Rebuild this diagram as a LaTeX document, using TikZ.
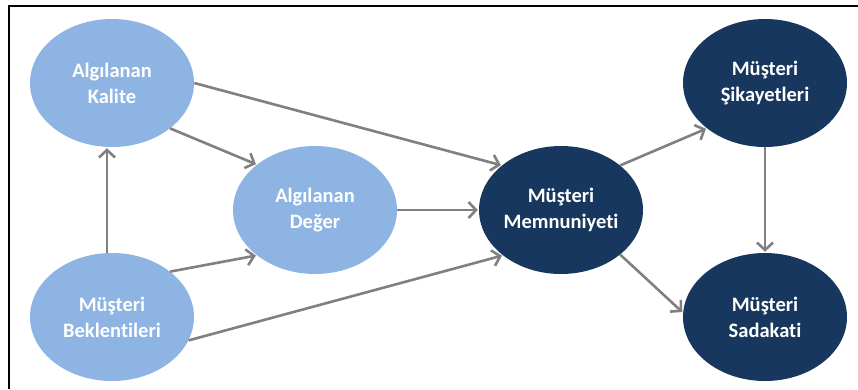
\documentclass[tikz,border=0pt]{standalone}
\usepackage{fontspec}
\setmainfont[Ligatures=NoCommon]{Carlito}
\usetikzlibrary{shapes.geometric,arrows.meta}
\definecolor{lightblue}{RGB}{141,180,226}
\definecolor{navy}{RGB}{23,55,94}
\definecolor{arrowgray}{RGB}{128,128,128}
\tikzset{
  bubble/.style={ellipse, minimum width=164pt, minimum height=128pt, inner sep=0pt,
    text=white, align=center, font=\bfseries\fontsize{20.5}{26}\selectfont},
  light/.style={bubble, fill=lightblue},
  dark/.style={bubble, fill=navy},
  link/.style={draw=arrowgray, line width=2.6pt,
    -{Straight Barb[length=7.5pt,width=16pt]}, shorten >=1pt},
  frame/.style={draw=black, line width=2pt}
}
\begin{document}
\begin{tikzpicture}[x=1pt,y=-1pt]
\useasboundingbox (0,0) rectangle (858,389);
\draw[frame] (9,389) -- (9,6) -- (858,6);
\node[light] (AK) at (112,83) {Algılanan\\Kalite};
\node[light] (MB) at (112,317) {Müşteri\\Beklentileri};
\node[light] (AD) at (315,210) {Algılanan\\Değer};
\node[dark] (MM) at (561,210) {Müşteri\\Memnuniyeti};
\node[dark] (MS) at (765,83) {Müşteri\\Şikayetleri};
\node[dark] (SD) at (765,317) {Müşteri\\Sadakati};
\draw[link] ([xshift=-5pt]MB.north) -- ([xshift=-5pt]AK.south);
\draw[link] (AK.-38) -- (AD.142);
\draw[link] (AK.east) -- (MM.143);
\draw[link] (MB.38) -- (AD.218);
\draw[link] (MB.-17) -- (MM.218);
\draw[link] (AD.east) -- (MM.west);
\draw[link] (MM.37) -- (MS.218);
\draw[link] (MM.-37) -- (SD.177);
\draw[link] (MS.south) -- (SD.north);
\end{tikzpicture}
\end{document}
